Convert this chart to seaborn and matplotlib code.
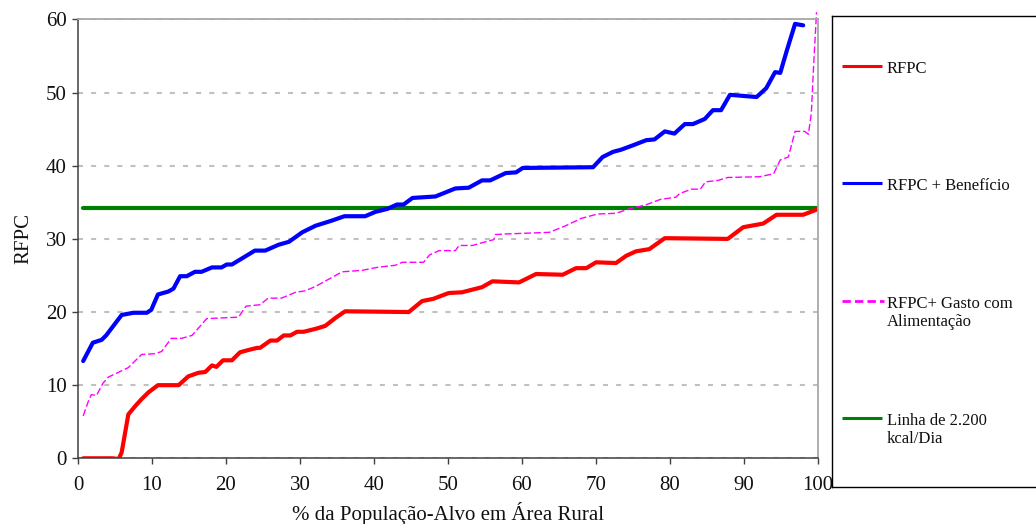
import matplotlib
matplotlib.use('Agg')
import matplotlib.pyplot as plt
import seaborn as sns

# ---------------- data ----------------
labels = ["RFPC", "RFPC + Benefício", "RFPC+ Gasto com\nAlimentação", "Linha de 2.200\nkcal/Dia"]

red_x = [0.7, 4.7, 5.5, 5.9, 6.8, 7.7, 8.6, 9.5, 10.8, 13.6, 14.9, 16.3, 17.2, 18.1, 18.7,
         19.6, 20.8, 21.9, 23.0, 24.2, 24.6, 26.0, 26.9, 27.8, 28.7, 29.6, 30.5, 32.1, 33.4,
         34.8, 36.1, 44.7, 46.5, 48.0, 50.1, 51.9, 54.6, 56.0, 59.6, 61.9, 65.5, 67.3, 68.7,
         70.0, 72.7, 74.1, 75.4, 77.2, 79.3, 87.8, 89.9, 92.6, 94.4, 98.0, 99.8]
red_y = [0.0, 0.0, -0.1, 0.8, 6.0, 7.1, 8.1, 9.0, 10.0, 10.0, 11.2, 11.7, 11.8, 12.7, 12.5,
         13.4, 13.4, 14.5, 14.8, 15.1, 15.1, 16.1, 16.1, 16.8, 16.8, 17.3, 17.3, 17.7, 18.1,
         19.2, 20.1, 20.0, 21.5, 21.8, 22.6, 22.7, 23.4, 24.2, 24.05, 25.2, 25.1, 26.0, 26.0,
         26.8, 26.7, 27.7, 28.3, 28.6, 30.1, 30.0, 31.6, 32.1, 33.3, 33.3, 34.0]

blue_x = [0.7, 2.0, 3.2, 3.8, 4.7, 5.9, 7.5, 9.3, 9.9, 10.8, 12.2, 12.9, 13.8, 14.7, 15.8,
          16.7, 18.1, 19.4, 20.1, 20.8, 22.6, 23.9, 25.3, 27.1, 28.5, 30.3, 32.1, 34.3, 36.0,
          38.8, 40.2, 41.8, 43.1, 44.0, 45.2, 48.3, 51.0, 52.8, 54.6, 55.7, 57.8, 59.2, 60.1,
          69.6, 70.9, 72.3, 73.4, 75.0, 76.8, 77.9, 79.3, 80.6, 82.0, 83.1, 84.7, 85.8, 86.9,
          88.1, 91.7, 93.0, 94.2, 94.9, 95.8, 96.9, 98.0]
blue_y = [13.3, 15.8, 16.2, 16.8, 18.0, 19.6, 19.9, 19.9, 20.3, 22.4, 22.8, 23.2, 24.9, 24.9, 25.5,
          25.5, 26.1, 26.1, 26.5, 26.5, 27.6, 28.4, 28.4, 29.2, 29.6, 30.9, 31.8, 32.5, 33.1,
          33.1, 33.7, 34.1, 34.7, 34.7, 35.6, 35.8, 36.9, 37.0, 38.0, 38.0, 39.0, 39.1, 39.7,
          39.8, 41.2, 41.9, 42.2, 42.8, 43.5, 43.6, 44.7, 44.4, 45.7, 45.7, 46.4, 47.6, 47.6,
          49.7, 49.4, 50.6, 52.8, 52.7, 55.8, 59.4, 59.2]

mag_x = [0.7, 1.4, 1.8, 2.5, 3.4, 4.1, 6.8, 8.6, 10.4, 11.3, 12.6, 14.0, 15.4, 17.4,
         21.7, 22.7, 24.6, 25.7, 27.5, 29.4, 30.7, 32.1, 33.9, 35.7, 38.4, 40.4, 42.9, 43.8,
         46.7, 47.5, 48.8, 51.0, 51.5, 53.3, 55.4, 56.2, 56.4, 58.5, 63.7, 65.9, 68.0, 70.2,
         72.7, 74.8, 76.6, 78.7, 80.8, 81.3, 82.9, 84.1, 84.8, 86.5, 87.8, 92.1, 94.0, 94.9,
         96.0, 96.9, 98.2, 98.7, 99.1, 99.4, 99.8]
mag_y = [5.8, 7.8, 8.7, 8.6, 10.3, 11.1, 12.4, 14.2, 14.3, 14.6, 16.4, 16.4, 16.8, 19.1,
         19.3, 20.8, 21.0, 21.9, 21.9, 22.7, 22.9, 23.5, 24.5, 25.5, 25.7, 26.1, 26.4, 26.8,
         26.8, 27.8, 28.4, 28.4, 29.1, 29.1, 29.7, 29.9, 30.6, 30.7, 30.9, 31.8, 32.8, 33.4,
         33.5, 34.2, 34.6, 35.4, 35.7, 36.2, 36.8, 36.8, 37.8, 38.0, 38.4, 38.5, 38.9, 40.8,
         41.2, 44.7, 44.7, 44.3, 47.2, 53.5, 61.0]

green_x = [0.7, 100.0]
green_y = [34.2, 34.2]

x_ticks = [0, 10, 20, 30, 40, 50, 60, 70, 80, 90, 100]
y_ticks = [0, 10, 20, 30, 40, 50, 60]

# ---------------- style ----------------
sns.set_style('ticks')
plt.rcParams['font.family'] = ['Liberation Serif', 'DejaVu Serif']

W, H = 1036, 524
fig = plt.figure(figsize=(W / 100, H / 100), dpi=100)
ax = fig.add_axes([78 / W, 1 - 458.3 / H, 740 / W, (458.3 - 19.5) / H])

ax.set_axisbelow(True)
ax.yaxis.grid(True, color='#c0c0c0', lw=1.5, linestyle=(0, (2.4, 3.9)))
ax.xaxis.grid(False)

RED, BLUE, MAG, GREEN = '#ff0000', '#0000ff', '#ff00ff', '#008000'

sns.lineplot(x=green_x, y=green_y, ax=ax, color=GREEN, lw=3.0, estimator=None)
sns.lineplot(x=red_x, y=red_y, ax=ax, color=RED, lw=3.0, estimator=None,
             solid_joinstyle='round')
sns.lineplot(x=blue_x, y=blue_y, ax=ax, color=BLUE, lw=3.0, estimator=None,
             solid_joinstyle='round')
sns.lineplot(x=mag_x, y=mag_y, ax=ax, color=MAG, lw=1.0, estimator=None)
ax.lines[-1].set_dashes((5, 2))
ax.lines[-1].set_clip_on(False)

ax.set_xlim(0, 100)
ax.set_ylim(0, 60)
ax.set_xticks(x_ticks)
ax.set_yticks(y_ticks)
ax.tick_params(axis='both', direction='out', length=4, width=1, color='#404040',
               labelsize=15, labelcolor='#111111')
ax.tick_params(axis='x', pad=9)
ax.tick_params(axis='y', pad=4)

for side in ['left', 'bottom']:
    ax.spines[side].set_color('#404040')
    ax.spines[side].set_linewidth(1.1)
for side in ['top', 'right']:
    ax.spines[side].set_color('#a8a8a8')
    ax.spines[side].set_linewidth(1.3)

ax.set_xlabel('% da População-Alvo em Área Rural', fontsize=15, labelpad=5, color='#111111')
ax.set_ylabel('RFPC', fontsize=15, labelpad=9, color='#111111')

# ---------------- legend panel ----------------
lx0, lx1, ly0, ly1 = 832, 1040, 16, 487
lax = fig.add_axes([lx0 / W, 1 - ly1 / H, (lx1 - lx0) / W, (ly1 - ly0) / H])
lax.set_xlim(lx0, lx1)
lax.set_ylim(ly1, ly0)
lax.set_xticks([])
lax.set_yticks([])
lax.set_facecolor('white')
for s in lax.spines.values():
    s.set_color('black')
    s.set_linewidth(1.0)

colors = [RED, BLUE, MAG, GREEN]
handle_y = [66, 183, 301, 418]
text_top = [60, 177, 295, 412]
for lab, col, yh, yt in zip(labels, colors, handle_y, text_top):
    if col == MAG:
        lax.plot([842, 884], [yh, yh], color=col, lw=2.0, dashes=(3, 1.5))
    else:
        lax.plot([842, 882], [yh, yh], color=col, lw=2.2, solid_capstyle='butt')
    lax.text(887, yt + 1, lab, fontsize=12, va='top', ha='left', color='#111111',
             linespacing=1.2)

fig.savefig('out.png', dpi=100)
